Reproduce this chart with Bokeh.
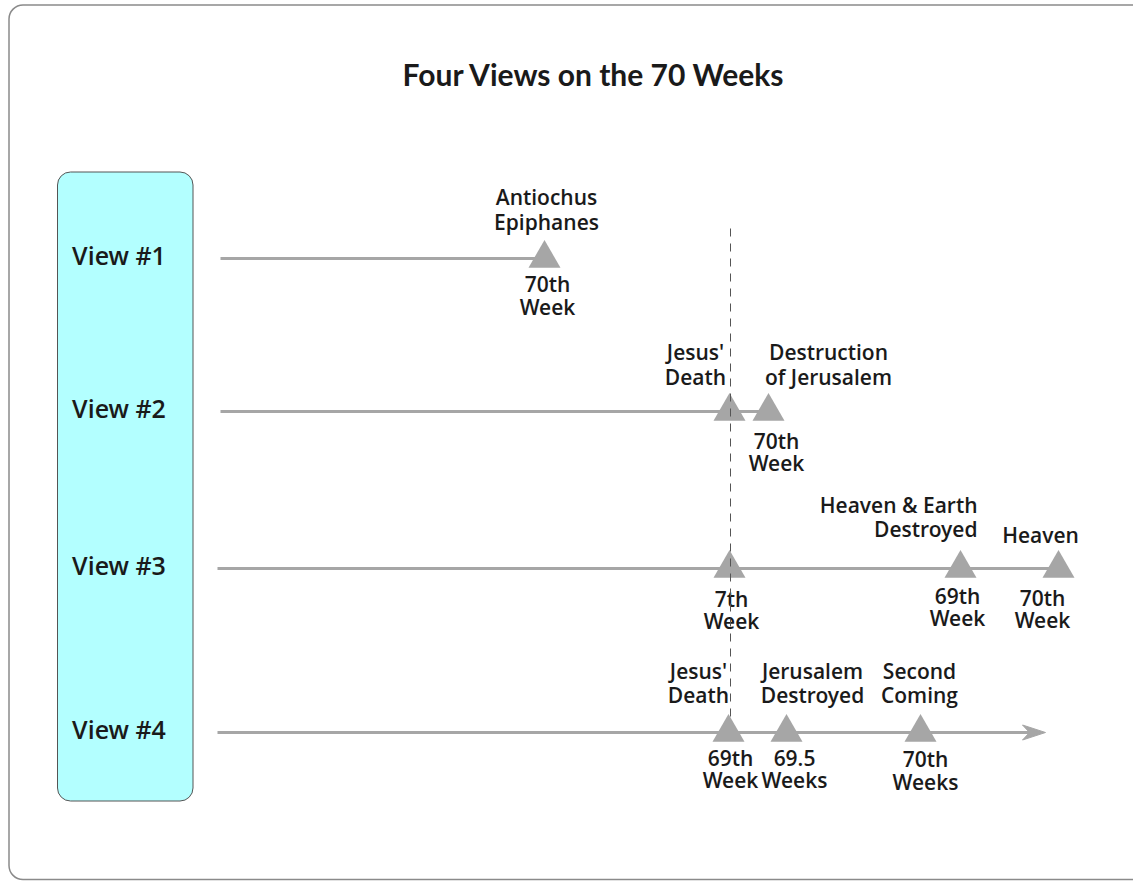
from bokeh.plotting import figure
from bokeh.models import Range1d, ColumnDataSource
from bokeh.core.properties import value
from bokeh.embed import file_html
from bokeh.resources import INLINE

# ---------------- data ----------------
title_text = "Four Views on the 70 Weeks"
views = ["View #1", "View #2", "View #3", "View #4"]
view_rows = [258, 411, 568, 732]
line_start = [220, 220, 217, 217]
line_end = [544, 768, 1058, 1045]
line_has_arrow = [False, False, False, True]

event_view = [0, 1, 1, 2, 2, 2, 3, 3, 3]
event_x = [544, 729, 768, 729, 960, 1058, 728, 786, 920]
label_above = ["Antiochus\nEpiphanes", "Jesus'\nDeath", "Destruction\nof Jerusalem", "",
               "Heaven & Earth\nDestroyed", "Heaven", "Jesus'\nDeath",
               "Jerusalem\nDestroyed", "Second\nComing"]
label_below = ["70th\nWeek", "", "70th\nWeek", "7th\nWeek", "69th\nWeek", "70th\nWeek",
               "69th\nWeek", "69.5\nWeeks", "70th\nWeeks"]

# label placement relative to the marker
above_dx = [2, -34, 60, 0, 17, -18, -30, 26, -1]
above_dy = [-35.5, -33.5, -33.5, 0, -38, -32, -36, -36, -36]
above_align = ["center", "center", "center", "center", "right", "center",
               "center", "center", "center"]
below_dx = [3, 0, 8, 2, -3, -16, 2, 8, 5]
below_dy = [27, 0, 30.5, 31.5, 28.5, 30.5, 26.5, 26.5, 28]

divider_x = 730
divider_span = [228, 722]

# ---------------- style ----------------
GRAY = "#a6a6a6"
TXT = "#1a1a1a"
FONT = "Open Sans SemiBold, Open Sans"
LSIZE = "21px"
GAP_ABOVE = 24.5
GAP_BELOW = 22.5
TEXT_NUDGE = -1.5
W, H = 1133, 881

p = figure(width=W, height=H, output_backend="svg", toolbar_location=None,
           x_range=Range1d(0, W), y_range=Range1d(H, 0), min_border=0,
           outline_line_color=None, background_fill_color="white",
           border_fill_color="white")
p.axis.visible = False
p.grid.visible = False

# outer frame
p.quad(left=[8.5], right=[1150], top=[4.5], bottom=[879], border_radius=14,
       fill_color=None, line_color="#8a8a8a", line_width=1.5)

# cyan box
p.quad(left=[57], right=[192.5], top=[171.5], bottom=[800.5], border_radius=13,
       fill_color="#b3ffff", line_color="#555555", line_width=1)

# title
p.text(x=[593.5], y=[73], text=[title_text], text_font=value("Lato"),
       text_font_style="bold", text_font_size="30px", text_align="center",
       text_baseline="middle", text_color=TXT)

# view labels
p.text(x=[118.5] * len(views), y=[r - 3.5 for r in view_rows], text=views,
       text_font=value(FONT), text_font_size="25px", text_align="center",
       text_baseline="middle", text_color=TXT)

# timelines
for i, y in enumerate(view_rows):
    if line_has_arrow[i]:
        xe = line_end[i]
        p.segment(x0=[line_start[i]], y0=[y], x1=[xe - 15], y1=[y],
                  line_color=GRAY, line_width=3)
        p.patch(x=[xe, xe - 23, xe - 16, xe - 23], y=[y, y - 7.5, y, y + 7.5],
                fill_color=GRAY, line_color=GRAY, line_width=1)
    else:
        p.segment(x0=[line_start[i]], y0=[y], x1=[line_end[i]], y1=[y],
                  line_color=GRAY, line_width=3)

# event markers
ev_y = [view_rows[v] for v in event_view]
p.scatter(x=event_x, y=ev_y, marker="triangle", size=32, fill_color=GRAY,
          line_color=None)

# labels (one text per line)
lx, ly, lt, la = [], [], [], []
for i, v in enumerate(event_view):
    row = view_rows[v]
    if label_above[i]:
        lines = label_above[i].split("\n")
        n = len(lines)
        for k, s in enumerate(lines):
            lx.append(event_x[i] + above_dx[i])
            ly.append(row + above_dy[i] - (n - 1 - k) * GAP_ABOVE + TEXT_NUDGE)
            lt.append(s)
            la.append(above_align[i])
    if label_below[i]:
        for k, s in enumerate(label_below[i].split("\n")):
            lx.append(event_x[i] + below_dx[i])
            ly.append(row + below_dy[i] + k * GAP_BELOW + TEXT_NUDGE)
            lt.append(s)
            la.append("center")

src = ColumnDataSource(dict(x=lx, y=ly, t=lt, a=la))
p.text(x="x", y="y", text="t", source=src, text_font=value(FONT),
       text_font_size=LSIZE, text_align="a",
       text_baseline="middle", text_color=TXT)

# dashed divider
p.segment(x0=[divider_x], y0=[divider_span[0]], x1=[divider_x], y1=[divider_span[1]],
          line_color="#555555", line_width=1, line_dash="8 7")

open("out.html", "w").write(file_html(p, INLINE))
